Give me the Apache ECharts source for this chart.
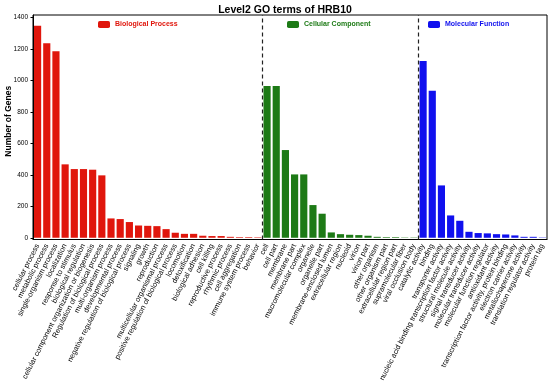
<!DOCTYPE html>
<html><head><meta charset="utf-8">
<script src="https://cdn.jsdelivr.net/npm/echarts@6/dist/echarts.min.js"></script>
<style>html,body{margin:0;padding:0;background:#fff}#c{width:550px;height:392px}</style>
</head><body><div id="c"></div>
<script>
const bpCats = ["cellular process","metabolic process","single-organism process","localization","response to stimulus","biological regulation","cellular component organization or biogenesis","Regulation of biological process","multi-organism process","developmental process","negative regulation of biological process","signaling","growth","reproduction","multicellular organismal process","positive regulation of biological process","locomotion","detoxification","biological adhesion","cell killing","reproductive process","rhythmic process","cell aggregation","immune system process","behavior"];
const bpVals = [1349,1237,1186,467,437,437,433,397,123,119,100,78,76,74,55,32,25,25,13,11,11,6,4,4,3];
const ccCats = ["cell","cell part","membrane","membrane part","macromolecular complex","organelle","organelle part","membrane-enclosed lumen","extracellular region","nucleoid","virion","virion part","other organism","other organism part","extracellular region part","supramolecular fiber","viral occlusion body"];
const ccVals = [965,965,558,403,403,208,153,34,23,19,17,13,6,4,4,2,2];
const mfCats = ["catalytic activity","binding","transporter activity","nucleic acid binding transcription factor activity","structural molecule activity","signal transducer activity","molecular transducer activity","molecular function regulator","antioxidant activity","transcription factor activity, protein binding","electron carrier activity","metallochaperone activity","translation regulator activity","protein tag"];
const mfVals = [1124,935,333,142,108,38,30,28,23,21,15,6,6,2];
const yTicks = [0,200,400,600,800,1000,1200,1400];
const groupNames = ["Biological Process","Cellular Component","Molecular Function"];
const colors = ["#e0160c","#1d7a16","#1010ee"];

const cats = bpCats.concat(ccCats, mfCats);
const n = cats.length;
function pad(vals, before) {
  const arr = new Array(n).fill('-');
  vals.forEach((v, i) => arr[before + i] = v);
  return arr;
}
const groups = [[bpVals, 0], [ccVals, bpCats.length], [mfVals, bpCats.length + ccCats.length]];
const font = "Liberation Sans, Arial, sans-serif";
const series = groups.map((g, i) => ({
  name: groupNames[i], type: 'bar', xAxisIndex: 0, yAxisIndex: 0,
  data: pad(g[0], g[1]), barWidth: '78%', barGap: '-100%',
  itemStyle: {color: colors[i]}
}));
series.push({
  type: 'line', xAxisIndex: 1, yAxisIndex: 0, data: [], silent: true,
  markLine: {symbol: 'none', silent: true, label: {show: false},
    lineStyle: {color: '#222', type: [4, 3], width: 1.2},
    data: [{xAxis: bpCats.length}, {xAxis: bpCats.length + ccCats.length}]}
});
const legendLefts = [93, 282, 423];
const legends = groupNames.map((nm, i) => ({
  data: [nm], left: legendLefts[i], top: 16, itemWidth: 12, itemHeight: 7, itemGap: 4,
  selectedMode: false,
  textStyle: {color: colors[i], fontFamily: font, fontWeight: 'bold', fontSize: 7}
}));
const chart = echarts.init(document.getElementById('c'), null, {renderer: 'canvas'});
chart.setOption({
  animation: false,
  title: {text: 'Level2 GO terms of HRB10', left: 280, textAlign: 'center', top: 0,
    textStyle: {fontFamily: font, fontWeight: 'bold', fontSize: 10.5, color: '#000'}},
  legend: legends,
  grid: {left: 33, right: 3, top: 15, bottom: 152.5, show: true, borderColor: '#000', borderWidth: 1,
    backgroundColor: 'transparent', containLabel: false, outerBoundsMode: 'none'},
  xAxis: [{
    type: 'category', data: cats, boundaryGap: true,
    axisLine: {onZero: false, lineStyle: {color: '#000'}},
    axisTick: {alignWithLabel: true, length: 2.5, lineStyle: {color: '#000'}},
    axisLabel: {interval: 0, rotate: 63, fontSize: 7.4, fontFamily: font, color: '#000', margin: 5}
  }, {
    type: 'value', min: 0, max: n, show: false
  }],
  yAxis: {
    type: 'value', min: -11, max: 1417,
    name: 'Number of Genes', nameLocation: 'middle', nameGap: 20, nameMoveOverlap: false,
    nameTextStyle: {fontFamily: font, fontWeight: 'bold', fontSize: 8.5, color: '#000', padding: [0, 0, 0, 12]},
    axisLine: {show: true, lineStyle: {color: '#000'}},
    axisTick: {show: true, length: 2.5, customValues: yTicks, lineStyle: {color: '#000'}},
    axisLabel: {customValues: yTicks, fontSize: 6.5, fontFamily: font, color: '#000', margin: 5,
      formatter: v => String(v)},
    splitLine: {show: false}
  },
  series: series
});
</script></body></html>
